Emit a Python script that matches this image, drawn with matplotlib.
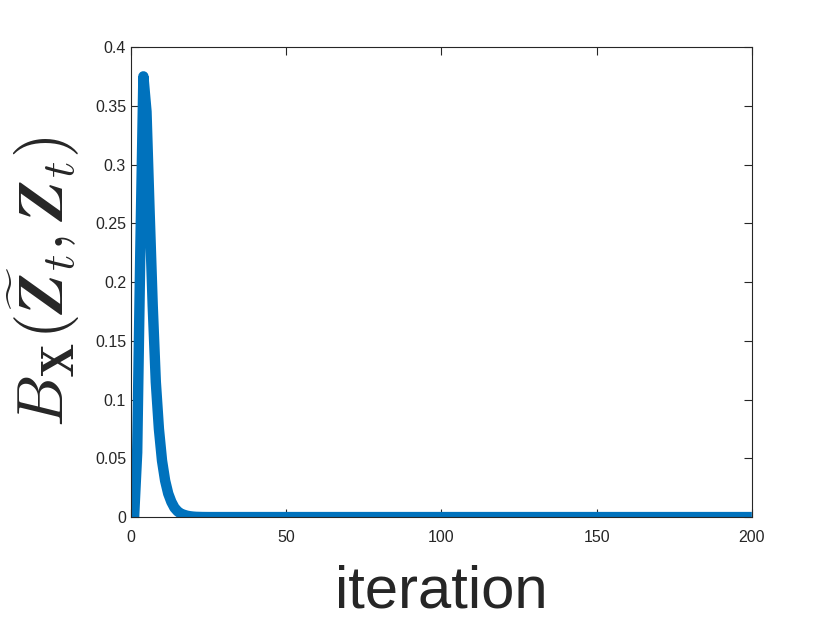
import numpy as np
import matplotlib
matplotlib.use("Agg")
import matplotlib.pyplot as plt

plt.rcParams['font.family'] = ['Liberation Sans', 'DejaVu Sans']
plt.rcParams['mathtext.fontset'] = 'cm'

# values, iterations 1..30, the rest sits on zero
head_values = [0.0, 0.055, 0.225, 0.375, 0.345, 0.26, 0.18, 0.115, 0.075, 0.048,
               0.031, 0.020, 0.013, 0.008, 0.005, 0.003, 0.002, 0.0012, 0.0007, 0.0004,
               0.0002, 0.0001, 0.00005, 0.0, 0.0, 0.0, 0.0, 0.0, 0.0, 0.0]
n_iter = 200
values = np.array(head_values + [0.0] * (n_iter - len(head_values)))
iterations = np.arange(1, n_iter + 1)

x_ticks = [0, 50, 100, 150, 200]
y_ticks = [0, 0.05, 0.1, 0.15, 0.2, 0.25, 0.3, 0.35, 0.4]
y_ticklabels = ['0', '0.05', '0.1', '0.15', '0.2', '0.25', '0.3', '0.35', '0.4']

fig = plt.figure(figsize=(8.3, 6.23), dpi=100)
ax = fig.add_axes([0.1578, 0.170, 0.748, 0.7546])

ax.plot(iterations, values, color='#0072BD', linewidth=7.5,
        solid_joinstyle='round', solid_capstyle='butt')

ax.set_xlim(0, 200)
ax.set_ylim(0, 0.4)
ax.set_xticks(x_ticks)
ax.set_yticks(y_ticks)
ax.set_yticklabels(y_ticklabels)

dark = '#262626'
for sp in ax.spines.values():
    sp.set_color(dark)
    sp.set_linewidth(0.8)
ax.tick_params(direction='in', length=6, width=0.8, colors=dark,
               labelsize=11.5, top=True, right=True)
ax.tick_params(axis='x', pad=9)

ax.set_xlabel('iteration', fontsize=43, color=dark, labelpad=14)
ax.set_ylabel(r'$B_{\mathbf{X}}(\widetilde{\boldsymbol{Z}}_t,\boldsymbol{Z}_t)$',
              fontsize=47, color=dark, labelpad=9)

fig.savefig('out.png', dpi=100, facecolor='white')
